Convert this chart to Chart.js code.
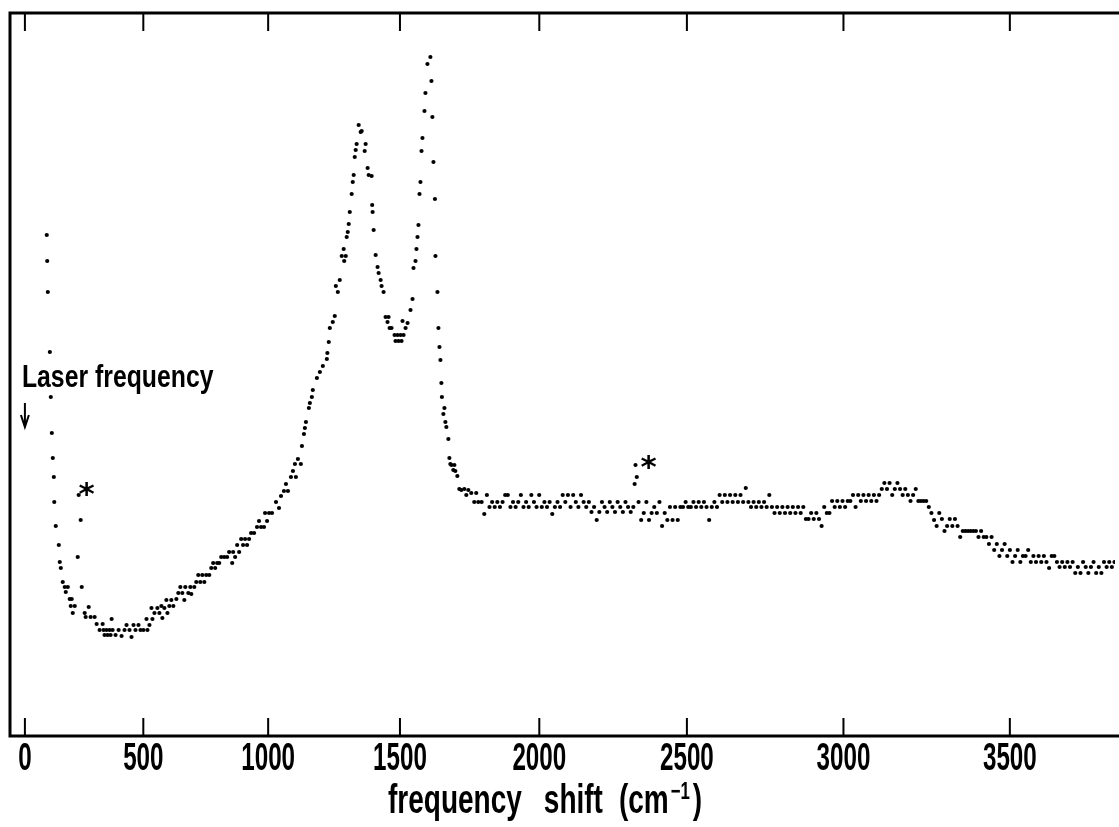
<!DOCTYPE html>
<html>
<head>
<meta charset="utf-8">
<script src="https://cdn.jsdelivr.net/npm/chart.js@4.4.0/dist/chart.umd.min.js"></script>
<style>
  body { margin: 0; background: #fff; }
  canvas { display: block; }
</style>
</head>
<body>
<canvas id="ramanChart" width="1119" height="827"></canvas>
<script>
// Laser line used for the shift axis (argon ion, nm)
const laserNm = 514.5;

// Raman shift ticks (cm-1), placed on the wavelength scale
const shiftTicks = [0, 500, 1000, 1500, 2000, 2500, 3000, 3500];

// Recorded spectrum, laser tail + D/G band region (wavelength nm, counts)
const bandNm = [
  517.01, 517.06, 517.13, 517.36, 517.47, 517.59, 517.70, 517.82, 517.87, 518.04,
  518.39, 518.50, 518.62, 518.84, 519.07, 519.19, 519.42, 519.64, 519.76, 519.87,
  519.99, 520.22, 520.56, 520.67, 520.90, 521.02, 521.36, 521.47, 521.82, 522.04,
  522.50, 522.73, 523.07, 523.42, 523.53, 523.64, 523.87, 523.99, 524.22, 524.33,
  524.45, 524.56, 524.90, 525.25, 525.59, 525.93, 526.16, 526.50, 526.73, 526.96,
  527.19, 527.53, 527.76, 528.10, 528.45, 528.56, 528.79, 529.02, 529.13, 529.36,
  529.70, 529.93, 530.16, 530.27, 530.50, 530.73, 530.85, 531.07, 531.30, 531.53,
  531.88, 532.10, 532.33, 532.56, 532.79, 532.90, 533.25, 533.48, 533.59, 533.93,
  534.16, 534.39, 534.62, 534.85, 535.08, 535.30, 535.65, 535.88, 536.10, 536.33,
  536.56, 536.79, 537.02, 537.36, 537.70, 537.93, 538.28, 538.39, 538.62, 538.85,
  539.08, 539.31, 539.53, 539.76, 539.99, 540.22, 540.45, 540.79, 541.13, 541.36,
  541.59, 541.93, 542.05, 542.28, 542.51, 542.85, 543.31, 543.65, 543.88, 544.22,
  544.45, 544.68, 545.02, 545.25, 545.48, 545.59, 545.82, 546.16, 546.28, 546.51,
  546.62, 546.74, 547.08, 547.19, 547.42, 547.53, 548.00, 548.34, 548.68, 549.14,
  549.20, 549.36, 549.48, 549.82, 550.05, 550.17, 550.40, 550.62, 550.85, 551.07,
  551.13, 551.31, 551.42, 551.54, 551.65, 551.77, 551.99, 552.11, 552.22, 552.34,
  552.45, 552.56, 552.79, 553.02, 553.14, 553.48, 553.59, 553.82, 553.94, 554.28,
  554.34, 554.39, 554.51, 554.74, 554.96, 555.08, 555.31, 555.42, 555.65, 555.88,
  556.10, 556.22, 556.34, 556.56, 556.91, 557.02, 557.25, 557.37, 557.60, 557.71,
  557.82, 557.94, 558.17, 558.40, 558.74, 558.97, 559.08, 559.31, 559.42, 559.54,
  559.65, 559.77, 559.88, 560.00, 560.11, 560.34, 560.45, 560.68, 561.02, 561.14,
  561.25, 561.37, 561.54, 561.60, 561.83, 561.94, 562.06, 562.17, 562.28, 562.34,
  562.51, 562.63, 562.74, 562.85, 563.08, 563.20, 563.31, 563.43, 563.65, 563.77,
  563.88, 564.11, 564.34, 564.57, 564.91, 565.14, 565.37, 565.71, 566.05, 566.28,
  566.51
];
const bandCounts = [
  501, 475, 444, 384, 339, 303, 278, 259, 234, 210,
  191, 174, 168, 154, 149, 144, 149, 137, 130, 137,
  123, 130, 179, 241, 216, 149, 123, 119, 129, 119,
  119, 112, 106, 112, 106, 101, 106, 101, 106, 101,
  117, 106, 101, 106, 100, 106, 111, 106, 99, 111,
  106, 111, 106, 106, 117, 106, 111, 128, 117, 123,
  128, 123, 130, 118, 128, 136, 123, 130, 136, 130,
  137, 143, 149, 143, 136, 149, 143, 149, 142, 149,
  154, 161, 154, 161, 154, 161, 161, 168, 173, 168,
  173, 173, 179, 179, 179, 184, 173, 184, 179, 191,
  184, 197, 191, 197, 191, 197, 203, 203, 209, 215,
  209, 209, 223, 215, 223, 223, 234, 228, 240, 245,
  252, 245, 259, 265, 272, 259, 277, 272, 290, 302,
  308, 314, 328, 333, 339, 346, 358, 364, 370, 377,
  383, 394, 408, 414, 420, 450, 444, 456, 480, 487,
  475, 480, 499, 504, 512, 524, 542, 554, 561, 579,
  586, 592, 611, 604, 605, 585, 592, 568, 561, 560,
  531, 524, 506, 481, 469, 463, 456, 450, 444, 419,
  414, 419, 408, 408, 401, 395, 401, 395, 401, 395,
  415, 401, 408, 413, 426, 437, 468, 475, 487, 499,
  511, 542, 554, 585, 598, 625, 643, 672, 679, 655,
  619, 574, 537, 480, 444, 408, 389, 376, 353, 339,
  322, 328, 314, 309, 297, 278, 272, 271, 266, 271,
  265, 260, 247, 246, 247, 241, 246, 243, 234, 243,
  234
];

// Plateau and C-H region (wavelength nm, counts)
const plateauNm = [
  566.9, 567.2, 567.5, 567.8, 568.1, 568.4, 568.7, 569.0, 569.3, 569.6,
  569.9, 570.2, 570.5, 570.8, 571.1, 571.4, 571.7, 572.0, 572.3, 572.6,
  572.9, 573.2, 573.5, 573.8, 574.1, 574.4, 574.7, 575.0, 575.3, 575.6,
  575.9, 576.2, 576.5, 576.8, 577.1, 577.4, 577.7, 578.0, 578.3, 578.6,
  578.9, 579.2, 579.5, 579.8, 580.1, 580.4, 580.7, 581.0, 581.3, 581.6,
  581.9, 582.2, 582.5, 582.8, 583.1, 583.4, 583.7, 584.0, 584.3, 584.45,
  584.55, 584.7, 584.9, 585.2, 585.5, 585.8, 586.1, 586.4, 586.7, 587.0,
  587.3, 587.6, 587.9, 588.2, 588.5, 588.8, 589.1, 589.4, 589.7, 590.0,
  590.3, 590.6, 590.9, 591.2, 591.5, 591.8, 592.1, 592.4, 592.7, 593.0,
  593.3, 593.6, 593.9, 594.2, 594.5, 594.8, 595.1, 595.4, 595.7, 596.0,
  596.3, 596.6, 596.9, 597.2, 597.5, 597.8, 598.1, 598.4, 598.7, 599.0,
  599.3, 599.6, 599.9, 600.2, 600.5, 600.8, 601.1, 601.4, 601.7, 602.0,
  602.3, 602.6, 602.9, 603.2, 603.5, 603.8, 604.1, 604.4, 604.7, 605.0,
  605.3, 605.6, 605.9, 606.2, 606.5, 606.8, 607.1, 607.4, 607.7, 608.0,
  608.3, 608.6, 608.9, 609.2, 609.5, 609.8, 610.1, 610.4, 610.7, 611.0,
  611.3, 611.6, 611.9, 612.2, 612.5, 612.8, 613.1, 613.4, 613.7, 614.0,
  614.3, 614.6, 614.9, 615.2, 615.5, 615.8, 616.1, 616.4, 616.7, 617.0,
  617.3, 617.6, 617.9, 618.2, 618.5, 618.8, 619.1, 619.4, 619.7, 620.0,
  620.3, 620.6, 620.9, 621.2, 621.5, 621.8, 622.1, 622.4, 622.7, 623.0,
  623.3, 623.6, 623.9, 624.2, 624.5, 624.8, 625.1, 625.4, 625.7, 626.0,
  626.3, 626.6, 626.9, 627.2, 627.5, 627.8, 628.1, 628.4, 628.7, 629.0,
  629.3, 629.6, 629.9, 630.2, 630.5, 630.8, 631.1, 631.4, 631.7, 632.0,
  632.3, 632.6, 632.9, 633.2, 633.5, 633.8, 634.1, 634.4, 634.7, 635.0,
  635.3, 635.6, 635.9, 636.2, 636.5, 636.8, 637.1, 637.4, 637.7, 638.0,
  638.3, 638.6, 638.9, 639.2, 639.5
];
const plateauCounts = [
  234, 222, 241, 229, 234, 229, 234, 229, 234, 241,
  241, 229, 234, 229, 234, 241, 229, 234, 229, 241,
  234, 229, 241, 229, 234, 229, 234, 222, 229, 234,
  229, 241, 234, 241, 229, 241, 234, 229, 241, 234,
  229, 234, 224, 229, 216, 224, 234, 229, 224, 234,
  229, 224, 234, 229, 224, 234, 229, 224, 229, 252,
  271, 259, 234, 216, 223, 234, 216, 223, 229, 223,
  234, 210, 223, 216, 229, 216, 229, 216, 229, 229,
  234, 229, 229, 234, 229, 234, 229, 234, 229, 216,
  229, 234, 229, 241, 234, 241, 234, 241, 234, 241,
  234, 241, 234, 248, 234, 229, 234, 229, 234, 229,
  234, 229, 241, 229, 223, 229, 223, 229, 223, 229,
  223, 229, 223, 229, 223, 229, 217, 217, 223, 217,
  223, 217, 210, 229, 223, 223, 235, 229, 235, 229,
  235, 229, 235, 235, 241, 229, 241, 235, 241, 235,
  241, 235, 241, 235, 241, 247, 253, 247, 253, 241,
  247, 253, 247, 241, 247, 241, 235, 241, 247, 235,
  235, 235, 235, 229, 223, 216, 210, 223, 217, 205,
  210, 217, 210, 217, 210, 199, 205, 205, 205, 205,
  205, 205, 199, 205, 199, 199, 192, 199, 186, 192,
  180, 186, 192, 180, 186, 174, 180, 186, 174, 180,
  180, 186, 174, 180, 174, 180, 174, 180, 174, 168,
  180, 180, 174, 169, 174, 169, 174, 169, 174, 163,
  169, 163, 174, 169, 163, 169, 174, 163, 169, 163,
  174, 169, 174, 169, 174
];

// Spikes marked with an asterisk (wavelength nm, counts)
const spikeNm = [520.67, 584.55];
const spikeCounts = [241, 271];

function shiftToNm(shift) {
  return 1e7 / (1e7 / laserNm - shift);
}

function drawText(ctx, text, x, y, font, sx, align) {
  ctx.save();
  ctx.font = font;
  ctx.textAlign = align || 'left';
  ctx.textBaseline = 'alphabetic';
  ctx.translate(x, y);
  ctx.scale(sx, 1);
  ctx.fillText(text, 0, 0);
  const w = ctx.measureText(text).width * sx;
  ctx.restore();
  return w;
}

const points = bandNm.map((w, i) => ({ x: w, y: bandCounts[i] }))
  .concat(plateauNm.map((w, i) => ({ x: w, y: plateauCounts[i] })));

// Frame, inward ticks, labels and notes
const framePlugin = {
  id: 'frame',
  afterDraw(chart) {
    const ctx = chart.ctx;
    const a = chart.chartArea;
    const x = chart.scales.x;
    const y = chart.scales.y;
    ctx.save();
    ctx.fillStyle = '#000';
    ctx.strokeStyle = '#000';

    ctx.lineWidth = 3;
    ctx.beginPath();
    ctx.moveTo(chart.width, a.top);
    ctx.lineTo(a.left, a.top);
    ctx.lineTo(a.left, a.bottom);
    ctx.lineTo(chart.width, a.bottom);
    ctx.stroke();

    ctx.lineWidth = 2;
    shiftTicks.forEach(s => {
      const px = x.getPixelForValue(shiftToNm(s));
      ctx.beginPath();
      ctx.moveTo(px, a.bottom);
      ctx.lineTo(px, a.bottom - 18);
      ctx.moveTo(px, a.top);
      ctx.lineTo(px, a.top + 18);
      ctx.stroke();
      drawText(ctx, String(s), px, a.bottom + 34, 'bold 39px "Liberation Sans"', 0.62, 'center');
    });

    // axis title
    const tf = 'bold 40px "Liberation Sans"';
    let tx = 388;
    const ty = a.bottom + 77;
    tx += drawText(ctx, 'frequency', tx, ty, tf, 0.7) + 22;
    tx += drawText(ctx, 'shift', tx, ty, tf, 0.7) + 16;
    tx += drawText(ctx, '(cm', tx, ty, tf, 0.7) + 2;
    tx += drawText(ctx, '\u22121', tx, ty - 14, 'bold 24px "Liberation Sans"', 0.7) + 3;
    drawText(ctx, ')', tx, ty, tf, 0.7);

    // laser line note
    const lx = x.getPixelForValue(laserNm);
    drawText(ctx, 'Laser frequency', lx - 3, 387, 'bold 31px "Liberation Sans"', 0.8);
    ctx.lineWidth = 2;
    ctx.beginPath();
    ctx.moveTo(lx, 403);
    ctx.lineTo(lx, 426);
    ctx.moveTo(lx - 4, 415);
    ctx.lineTo(lx, 427);
    ctx.lineTo(lx + 4, 415);
    ctx.stroke();

    // asterisks next to the spikes
    spikeNm.forEach((w, i) => {
      const px = x.getPixelForValue(w);
      const py = y.getPixelForValue(spikeCounts[i]);
      const dx = i === 0 ? 8 : 13;
      const dy = i === 0 ? -9 : -6;
      drawText(ctx, '*', px + dx, py + dy + 18, 'bold 31px "DejaVu Sans"', 1, 'center');
    });
    ctx.restore();
  }
};

new Chart(document.getElementById('ramanChart'), {
  type: 'scatter',
  data: {
    datasets: [{
      data: points,
      pointRadius: 2.1,
      pointBackgroundColor: '#000',
      pointBorderWidth: 0,
      showLine: false
    }]
  },
  options: {
    responsive: false,
    animation: false,
    events: [],
    layout: { padding: { left: 10, top: 13, right: 0, bottom: 91 } },
    plugins: {
      legend: { display: false },
      tooltip: { enabled: false }
    },
    scales: {
      x: { type: 'linear', display: false, min: 512.79, max: 639.56 },
      y: { type: 'linear', display: false, min: 0, max: 723 }
    }
  },
  plugins: [framePlugin]
});
</script>
</body>
</html>
